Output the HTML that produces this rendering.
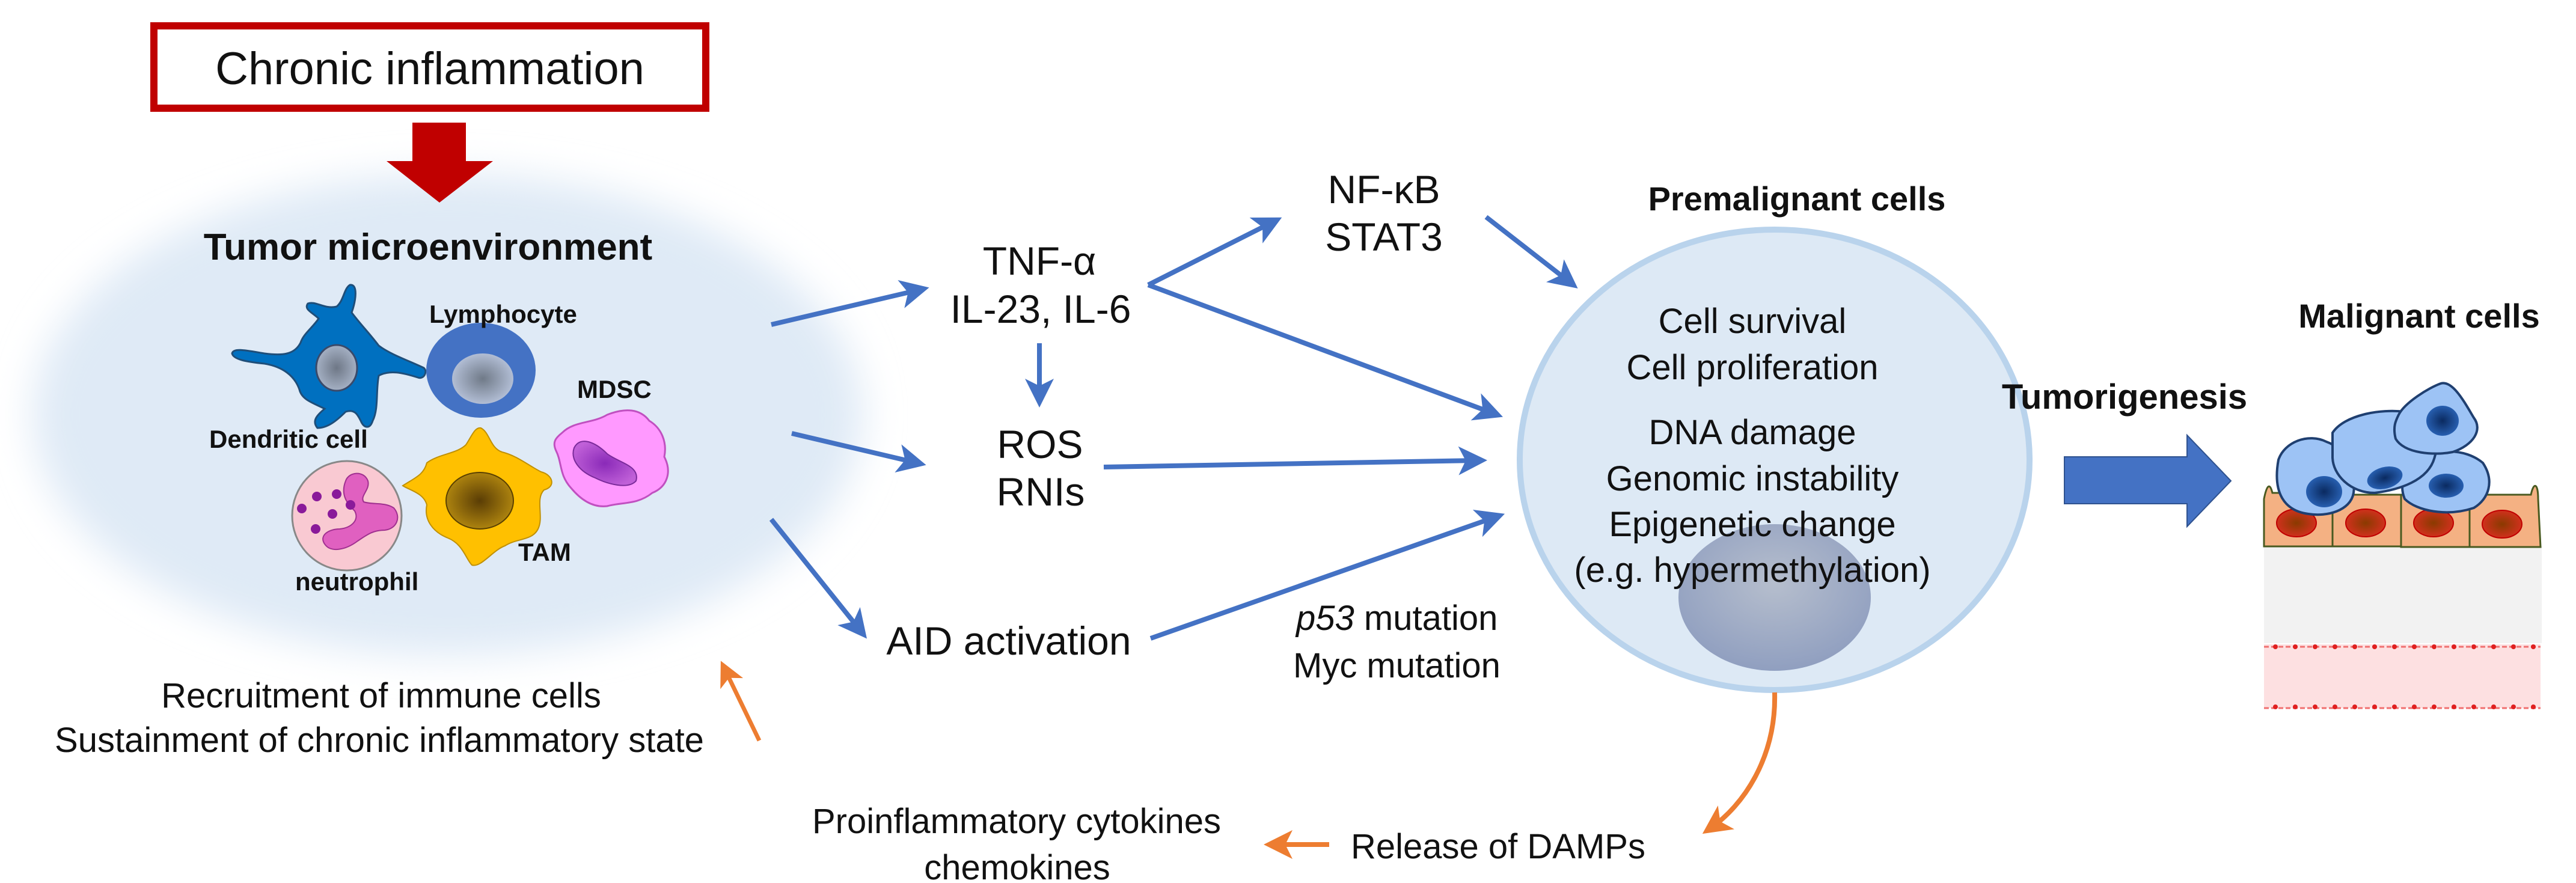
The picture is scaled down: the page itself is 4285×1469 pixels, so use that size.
<!DOCTYPE html>
<html><head><meta charset="utf-8"><style>
html,body{margin:0;padding:0;background:#fff}
svg{display:block}
text{font-family:"Liberation Sans",Arial,sans-serif;fill:#111}
.b{font-weight:bold}
</style></head><body>
<svg width="4285" height="1469" viewBox="0 0 4285 1469" xmlns="http://www.w3.org/2000/svg">
<defs>
<filter id="blur" x="-20%" y="-20%" width="140%" height="140%"><feGaussianBlur stdDeviation="32"/></filter>
<radialGradient id="nucG" cx="50%" cy="45%" r="55%"><stop offset="0" stop-color="#c0c6cf"/><stop offset="1" stop-color="#8e9cbc"/></radialGradient>
<radialGradient id="lymN" cx="50%" cy="50%" r="55%"><stop offset="0" stop-color="#707a88"/><stop offset="1" stop-color="#b8c4dc"/></radialGradient>
<radialGradient id="dcN" cx="50%" cy="50%" r="55%"><stop offset="0" stop-color="#6e7786"/><stop offset="1" stop-color="#aab6ca"/></radialGradient>
<radialGradient id="tamN" cx="50%" cy="50%" r="55%"><stop offset="0" stop-color="#5a3d05"/><stop offset="1" stop-color="#b58a10"/></radialGradient>
<radialGradient id="mdN" cx="50%" cy="50%" r="55%"><stop offset="0" stop-color="#8a2ab8"/><stop offset="1" stop-color="#c060d8"/></radialGradient>
<radialGradient id="preN" cx="50%" cy="40%" r="60%"><stop offset="0" stop-color="#b4bccb"/><stop offset="1" stop-color="#8c9bbd"/></radialGradient>
<radialGradient id="redN" cx="50%" cy="50%" r="55%"><stop offset="0" stop-color="#8a3a00"/><stop offset="1" stop-color="#d83020"/></radialGradient>
<radialGradient id="bluN" cx="50%" cy="50%" r="55%"><stop offset="0" stop-color="#0a2a60"/><stop offset="1" stop-color="#2a64b8"/></radialGradient>
<marker id="ab" markerWidth="6" markerHeight="6" refX="4" refY="3" orient="auto" markerUnits="strokeWidth"><path d="M0,0 L6,3 L0,6 L1.5,3 z" fill="#4472c4"/></marker>
<marker id="ao" markerWidth="6" markerHeight="6" refX="4" refY="3" orient="auto" markerUnits="strokeWidth"><path d="M0,0 L6,3 L0,6 L1.5,3 z" fill="#ed7d31"/></marker>
</defs>

<ellipse cx="745" cy="690" rx="690" ry="400" fill="#dfeaf6" filter="url(#blur)"/>

<rect x="256" y="43" width="918" height="137" fill="#fff" stroke="#c00000" stroke-width="12"/>
<text x="715" y="140" font-size="76" text-anchor="middle">Chronic inflammation</text>
<polygon points="686,204 775,204 775,268 820,268 731,337 643,268 686,268" fill="#c00000"/>

<text x="712" y="432" font-size="62" class="b" text-anchor="middle">Tumor microenvironment</text>

<path d="M582,474 C596,472 592,500 585,520 C600,540 615,555 630,575 C650,590 680,600 705,612 C712,618 705,632 695,628 C670,620 648,615 630,625 C625,650 630,680 620,700 C615,715 605,712 600,700 C595,690 590,680 575,685 C560,700 545,712 528,712 C518,700 528,690 540,680 C520,670 502,665 498,648 C490,625 470,610 440,605 C410,602 388,598 386,588 C388,578 410,583 440,588 C470,592 490,590 500,570 C505,555 520,545 530,530 C520,520 505,515 512,505 C525,500 540,515 560,510 C572,500 572,480 582,474 Z" fill="#0070c0" stroke="#1f4e79" stroke-width="3"/>
<ellipse cx="560" cy="612" rx="34" ry="38" fill="url(#dcN)" stroke="#3a4a6a" stroke-width="3"/>

<ellipse cx="800" cy="616" rx="91" ry="79" fill="#4472c4"/>
<ellipse cx="803" cy="630" rx="51" ry="42" fill="url(#lymN)"/>
<text x="714" y="537" font-size="42" class="b">Lymphocyte</text>

<path d="M935,720 C955,700 985,705 1010,690 C1040,678 1065,680 1080,700 C1100,712 1110,735 1105,760 C1118,785 1110,810 1085,820 C1060,840 1035,835 1010,842 C985,845 965,830 950,812 C930,790 935,770 925,750 C918,735 925,728 935,720 Z" fill="#ff99ff" stroke="#c050c0" stroke-width="3"/>
<path d="M955,745 C965,725 990,735 1010,755 C1030,770 1065,775 1058,800 C1045,815 1010,805 990,795 C965,785 948,765 955,745 Z" fill="url(#mdN)" stroke="#7a2a9a" stroke-width="2"/>
<text x="960" y="662" font-size="42" class="b">MDSC</text>

<circle cx="577" cy="858" r="91" fill="#f9c9d2" stroke="#888" stroke-width="3"/>
<path d="M575,800 C580,785 605,782 612,800 C616,815 598,825 605,835 C620,840 640,835 655,845 C668,860 660,880 640,882 C620,882 610,890 595,900 C575,915 550,920 540,905 C530,890 548,880 565,880 C585,878 598,865 590,850 C580,840 565,825 575,800 Z" fill="#e060c0" stroke="#a03090" stroke-width="2"/>
<g fill="#8a1a9a"><circle cx="502" cy="846" r="8"/><circle cx="527" cy="826" r="8"/><circle cx="560" cy="822" r="8"/><circle cx="583" cy="840" r="8"/><circle cx="553" cy="855" r="8"/><circle cx="525" cy="880" r="8"/></g>

<path d="M800,712 C815,720 815,745 835,752 C860,758 880,775 900,785 C920,790 925,810 905,815 C890,830 905,860 895,880 C885,900 860,895 840,908 C820,915 800,945 785,940 C775,930 770,905 745,895 C720,885 705,865 710,840 C705,820 680,815 670,808 C690,795 705,790 710,770 C730,755 760,755 775,740 C785,725 790,710 800,712 Z" fill="#ffc000" stroke="#c09000" stroke-width="2"/>
<ellipse cx="798" cy="833" rx="56" ry="47" fill="url(#tamN)" stroke="#5a4000" stroke-width="2"/>
<text x="862" y="933" font-size="42" class="b">TAM</text>
<text x="348" y="745" font-size="42" class="b">Dendritic cell</text>
<text x="491" y="982" font-size="42" class="b">neutrophil</text>

<text x="634" y="1177" font-size="58" text-anchor="middle">Recruitment of immune cells</text>
<text x="631" y="1251" font-size="58" text-anchor="middle">Sustainment of chronic inflammatory state</text>
<line x1="1263" y1="1232" x2="1205" y2="1112" stroke="#ed7d31" stroke-width="7" marker-end="url(#ao)"/>

<g stroke="#4472c4" stroke-width="8" fill="none">
<line x1="1283" y1="540" x2="1530" y2="482" marker-end="url(#ab)"/>
<line x1="1317" y1="721" x2="1525" y2="770" marker-end="url(#ab)"/>
<line x1="1283" y1="864" x2="1432" y2="1050" marker-end="url(#ab)"/>
<line x1="1729" y1="571" x2="1729" y2="662" marker-end="url(#ab)"/>
<line x1="1910" y1="474" x2="2118" y2="369" marker-end="url(#ab)"/>
<line x1="1910" y1="474" x2="2485" y2="688" marker-end="url(#ab)"/>
<line x1="2472" y1="361" x2="2612" y2="470" marker-end="url(#ab)"/>
<line x1="1836" y1="777" x2="2458" y2="766" marker-end="url(#ab)"/>
<line x1="1914" y1="1062" x2="2488" y2="860" marker-end="url(#ab)"/>
</g>

<g font-size="66" text-anchor="middle">
<text x="1729" y="457">TNF-α</text>
<text x="1731" y="537">IL-23, IL-6</text>
<text x="1730" y="762">ROS</text>
<text x="1731" y="841">RNIs</text>
<text x="1678" y="1089">AID activation</text>
<text x="2302" y="338">NF-κB</text>
<text x="2302" y="417">STAT3</text>
</g>
<g font-size="58">
<text x="2156" y="1048"><tspan font-style="italic">p53</tspan> mutation</text>
<text x="2151" y="1127">Myc mutation</text>
<text x="1691" y="1386" text-anchor="middle">Proinflammatory cytokines</text>
<text x="1692" y="1463" text-anchor="middle">chemokines</text>
<text x="2247" y="1428">Release of DAMPs</text>
</g>
<line x1="2211" y1="1405" x2="2118" y2="1405" stroke="#ed7d31" stroke-width="8" marker-end="url(#ao)"/>

<ellipse cx="2952" cy="765" rx="424" ry="383" fill="#dde9f5" stroke="#b9d3ec" stroke-width="10"/>
<ellipse cx="2952" cy="994" rx="160" ry="122" fill="url(#preN)" opacity="0.95"/>
<text x="2989" y="350" font-size="56" class="b" text-anchor="middle">Premalignant cells</text>
<g font-size="58" text-anchor="middle">
<text x="2915" y="554">Cell survival</text>
<text x="2915" y="631">Cell proliferation</text>
<text x="2915" y="739">DNA damage</text>
<text x="2915" y="816">Genomic instability</text>
<text x="2915" y="892">Epigenetic change</text>
<text x="2915" y="968">(e.g. hypermethylation)</text>
</g>
<path d="M2952,1152 C2955,1260 2900,1340 2845,1378" stroke="#ed7d31" stroke-width="8" fill="none" marker-end="url(#ao)"/>

<text x="3534" y="680" font-size="58" class="b" text-anchor="middle">Tumorigenesis</text>
<polygon points="3434,760 3638,760 3638,724 3711,800 3638,876 3638,838 3434,838" fill="#4472c4" stroke="#2f528f" stroke-width="2"/>
<text x="4024" y="545" font-size="56" class="b" text-anchor="middle">Malignant cells</text>

<rect x="3766" y="909" width="462" height="161" fill="#f2f2f2"/>
<rect x="3766" y="1072" width="460" height="106" fill="#fde0e1"/>
<line x1="3766" y1="1076" x2="4226" y2="1076" stroke="#f07070" stroke-width="3" stroke-dasharray="8,4"/>
<line x1="3766" y1="1178" x2="4226" y2="1178" stroke="#f07070" stroke-width="3" stroke-dasharray="8,4"/>
<g fill="#e02020">
<circle cx="3785" cy="1076" r="4"/><circle cx="3818" cy="1076" r="4"/><circle cx="3851" cy="1076" r="4"/><circle cx="3884" cy="1076" r="4"/><circle cx="3917" cy="1076" r="4"/><circle cx="3950" cy="1076" r="4"/><circle cx="3983" cy="1076" r="4"/><circle cx="4016" cy="1076" r="4"/><circle cx="4049" cy="1076" r="4"/><circle cx="4082" cy="1076" r="4"/><circle cx="4115" cy="1076" r="4"/><circle cx="4148" cy="1076" r="4"/><circle cx="4181" cy="1076" r="4"/><circle cx="4214" cy="1076" r="4"/>
<circle cx="3785" cy="1176" r="4"/><circle cx="3818" cy="1176" r="4"/><circle cx="3851" cy="1176" r="4"/><circle cx="3884" cy="1176" r="4"/><circle cx="3917" cy="1176" r="4"/><circle cx="3950" cy="1176" r="4"/><circle cx="3983" cy="1176" r="4"/><circle cx="4016" cy="1176" r="4"/><circle cx="4049" cy="1176" r="4"/><circle cx="4082" cy="1176" r="4"/><circle cx="4115" cy="1176" r="4"/><circle cx="4148" cy="1176" r="4"/><circle cx="4181" cy="1176" r="4"/><circle cx="4214" cy="1176" r="4"/>
</g>
<g fill="#f4b183" stroke="#4a5a20" stroke-width="3">
<path d="M3766,909 L3766,830 C3770,810 3775,800 3780,820 L3880,820 L3880,909 Z"/>
<rect x="3880" y="823" width="114" height="86"/>
<rect x="3994" y="823" width="114" height="87"/>
<path d="M4108,823 L4210,823 C4215,800 4222,805 4222,830 L4226,910 L4108,910 Z"/>
</g>
<g stroke="#c00000" stroke-width="2">
<ellipse cx="3820" cy="870" rx="33" ry="23" fill="url(#redN)"/>
<ellipse cx="3935" cy="870" rx="33" ry="23" fill="url(#redN)"/>
<ellipse cx="4048" cy="870" rx="33" ry="23" fill="url(#redN)"/>
<ellipse cx="4162" cy="872" rx="33" ry="23" fill="url(#redN)"/>
</g>
<g fill="#9dc3f5" stroke="#1f3f70" stroke-width="4">
<path d="M3790,765 C3800,735 3840,720 3870,735 C3900,745 3920,785 3915,820 C3910,850 3870,860 3840,855 C3800,850 3780,820 3790,765 Z"/>
<path d="M4020,770 C4050,745 4100,745 4130,770 C4150,800 4140,830 4115,845 C4070,860 4020,850 4000,830 C3990,805 4000,785 4020,770 Z"/>
<path d="M3880,720 C3900,690 3960,680 4000,685 C4040,690 4060,730 4050,760 C4040,800 3990,815 3950,820 C3910,820 3880,790 3880,760 Z"/>
<path d="M3990,690 C4000,670 4040,645 4060,638 C4080,632 4100,670 4115,695 C4130,715 4115,740 4080,752 C4050,758 4000,755 3985,730 C3980,710 3985,700 3990,690 Z"/>
</g>
<g fill="url(#bluN)">
<ellipse cx="3866" cy="818" rx="30" ry="26"/>
<ellipse cx="3967" cy="795" rx="30" ry="18" transform="rotate(-15 3967 795)"/>
<ellipse cx="4069" cy="808" rx="29" ry="20"/>
<ellipse cx="4063" cy="700" rx="27" ry="25"/>
</g>
</svg>
</body></html>
